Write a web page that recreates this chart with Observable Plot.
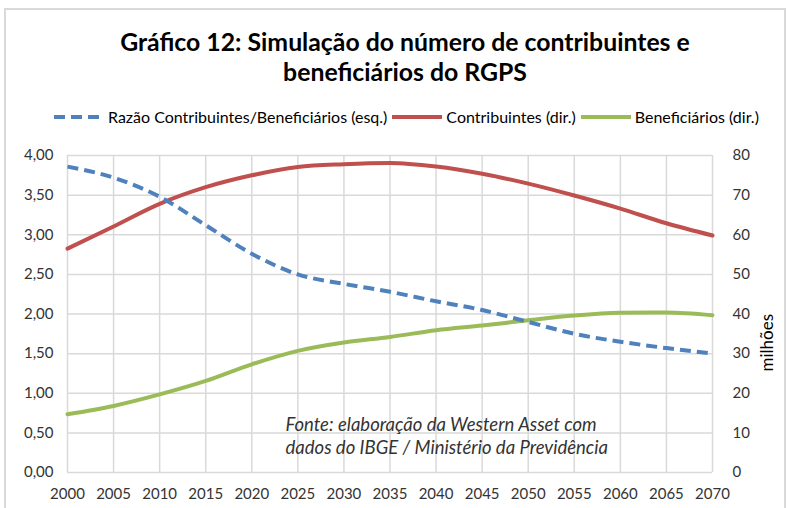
<!DOCTYPE html>
<html><head><meta charset="utf-8">
<script src="https://cdn.jsdelivr.net/npm/d3@7"></script>
<script src="https://cdn.jsdelivr.net/npm/@observablehq/plot@0.6"></script>
<style>
body{margin:0;background:#fff;font-family:Lato,sans-serif;width:790px;height:508px;overflow:hidden;position:relative;}
#frame{position:absolute;left:4px;top:8px;width:782px;height:540px;border:2px solid #d9d9d9;box-sizing:border-box;}
#title{position:absolute;left:10px;top:27px;width:790px;text-align:center;font-weight:bold;font-size:24.8px;line-height:30px;color:#000;}
#legend{position:absolute;top:107px;left:54px;display:flex;align-items:center;font-size:16px;white-space:nowrap;color:#000;}
#legend svg{margin-right:4px;}
#legend span{margin-right:5px;}
#chart{position:absolute;left:0;top:130px;}
</style></head>
<body>
<div id="frame"></div>
<div id="title">Gráfico 12: Simulação do número de contribuintes e<br>beneficiários do RGPS</div>
<div id="legend"></div>
<div id="chart"></div>
<script>
const years = [2000,2005,2010,2015,2020,2025,2030,2035,2040,2045,2050,2055,2060,2065,2070];
const razao = [3.86,3.72,3.48,3.12,2.76,2.50,2.38,2.28,2.16,2.05,1.90,1.75,1.65,1.57,1.50];
const contribuintes = [56.5,62.1,67.8,72.0,75.0,77.1,77.8,78.1,77.2,75.4,72.9,69.9,66.6,62.9,59.8];
const beneficiarios = [14.7,16.8,19.7,23.1,27.3,30.7,32.8,34.2,35.9,37.1,38.4,39.6,40.3,40.4,39.7];
const seriesNames = ["Razão Contribuintes/Beneficiários (esq.)","Contribuintes (dir.)","Beneficiários (dir.)"];
const seriesColors = ["#4f81bd","#c0504d","#9bbb59"];
const leftTicks = [0,0.5,1,1.5,2,2.5,3,3.5,4];
const rightTicks = [0,10,20,30,40,50,60,70,80];
const xTicks = [2000,2005,2010,2015,2020,2025,2030,2035,2040,2045,2050,2055,2060,2065,2070];
const yLabelRight = "milhões";
const note = "Fonte: elaboração da Western Asset com\ndados do IBGE / Ministério da Previdência";

// legend
const leg = document.getElementById("legend");
seriesNames.forEach((n,i)=>{
  const dash = i===0 ? ' stroke-dasharray="11,6"' : '';
  leg.insertAdjacentHTML("beforeend",
    `<svg width="50" height="10"><line x1="0" y1="5" x2="50" y2="5" stroke="${seriesColors[i]}" stroke-width="4"${dash}/></svg><span>${n}</span>`);
});

const k = 4/80; // right axis -> left axis scale
const rows = [];
years.forEach((y,i)=>{
  rows.push({year:y, v:razao[i], s:0});
  rows.push({year:y, v:contribuintes[i]*k, s:1});
  rows.push({year:y, v:beneficiarios[i]*k, s:2});
});
const fmtL = d => d.toFixed(2).replace(".",",");

const chart = Plot.plot({
  width:790, height:378,
  marginLeft:67, marginRight:78, marginTop:25, marginBottom:36,
  style:{fontFamily:"Lato, sans-serif", fontSize:"15px", color:"#333", background:"transparent"},
  x:{domain:[2000,2070]},
  y:{domain:[0,4]},
  marks:[
    Plot.gridX(xTicks,{stroke:"#d9d9d9", strokeOpacity:1, strokeWidth:1.5}),
    Plot.gridY(leftTicks,{stroke:"#d9d9d9", strokeOpacity:1, strokeWidth:1.5}),
    Plot.axisX(xTicks,{tickSize:0, tickPadding:16, tickFormat:"d", label:null, fontSize:15}),
    Plot.axisY(leftTicks,{anchor:"left", tickSize:0, tickPadding:14, tickFormat:fmtL, label:null, fontSize:15}),
    Plot.axisY(rightTicks.map(d=>d*k),{anchor:"right", tickSize:0, tickPadding:20, tickFormat:(d,i)=>rightTicks[i], label:null, fontSize:15}),
    Plot.text([yLabelRight],{frameAnchor:"right", dx:55, rotate:-90, fontSize:17, fill:"#000"}),
    Plot.text([note],{frameAnchor:"bottom-left", dx:218, dy:-19, textAnchor:"start", lineAnchor:"bottom", fontStyle:"italic", fontSize:18.5, lineHeight:1.2, fill:"#333"}),
    Plot.line(rows.filter(d=>d.s===2),{x:"year", y:"v", stroke:seriesColors[2], strokeWidth:4, curve:"monotone-x"}),
    Plot.line(rows.filter(d=>d.s===1),{x:"year", y:"v", stroke:seriesColors[1], strokeWidth:4, curve:"monotone-x"}),
    Plot.line(rows.filter(d=>d.s===0),{x:"year", y:"v", stroke:seriesColors[0], strokeWidth:4, strokeDasharray:"11,6", strokeLinecap:"butt", curve:"monotone-x"})
  ]
});
document.getElementById("chart").appendChild(chart);
</script>
</body></html>
